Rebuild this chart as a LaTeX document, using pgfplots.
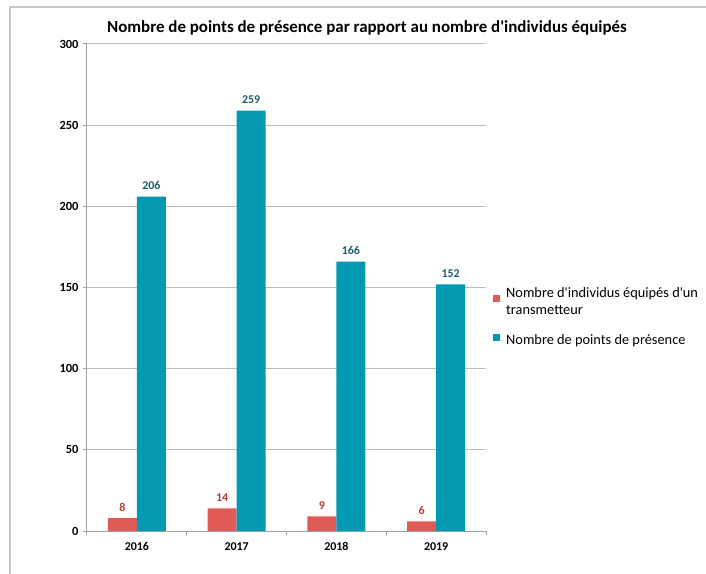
\documentclass[border=0pt]{standalone}
\usepackage{fontspec}
\setmainfont{Carlito}[Ligatures=TeXOff]
\usepackage{pgfplots}
\pgfplotsset{compat=1.18}
\definecolor{barred}{HTML}{E05B56}
\definecolor{barteal}{HTML}{0399B1}
\definecolor{labred}{HTML}{B93A35}
\definecolor{labteal}{HTML}{1C5E6E}
\definecolor{gridc}{HTML}{BDBDBD}
\definecolor{axc}{HTML}{A0A0A0}
\begin{document}
\begin{tikzpicture}
\useasboundingbox (0,0) rectangle (706bp,574bp);
\draw[color=gray!45, line width=1.3bp] (10bp,0) -- (10bp,567bp) -- (706bp,567bp);
\node[anchor=base, font=\bfseries\fontsize{17}{20}\selectfont] at (367bp,541bp) {Nombre de points de présence par rapport au nombre d'individus équipés};
\begin{axis}[
  at={(87bp,43bp)}, anchor=south west,
  scale only axis, width=399bp, height=487bp,
  /pgf/number format/assume math mode=true,
  ybar=0pt, bar width=29bp,
  xmin=-0.5, xmax=3.5, ymin=0, ymax=300,
  xtick={0,1,2,3}, xticklabels={2016,2017,2018,2019},
  minor xtick={-0.5,0.5,1.5,2.5,3.5},
  ytick={0,50,...,300},
  axis x line*=bottom, axis y line*=left,
  axis line style={axc, line width=1bp, -},
  tick align=outside,
  major tick length=4bp, minor tick length=4bp,
  major x tick style={draw=none},
  minor x tick style={axc, line width=1bp},
  major y tick style={axc, line width=1bp},
  ymajorgrids, grid style={gridc, line width=1bp},
  yticklabel style={font=\bfseries\fontsize{12.5}{14}\selectfont, xshift=-1bp},
  xticklabel style={font=\bfseries\fontsize{12}{14}\selectfont, yshift=-4bp},
  nodes near coords,
  every node near coord/.append style={font=\bfseries\fontsize{12}{14}\selectfont, yshift=3bp},
  legend style={draw=none, fill=none, at={(axis description cs:1.0175,0.505)}, anchor=north west,
    font=\fontsize{14.4}{17}\selectfont, cells={anchor=west, align=left}, row sep=15bp,
    inner sep=0pt},
  legend image code/.code={\fill[#1] (0bp,-0.5bp) rectangle (7bp,6.5bp); \path (0bp,0bp) -- (11bp,0bp);},
]
\addplot[fill=barred, draw=none, nodes near coords style={text=labred}] coordinates {(0,8) (1,14) (2,9) (3,6)};
\addplot[fill=barteal, draw=none, nodes near coords style={text=labteal}] coordinates {(0,206) (1,259) (2,166) (3,152)};
\legend{Nombre d'individus équipés d'un\\transmetteur, Nombre de points de présence}
\end{axis}
\end{tikzpicture}
\end{document}
